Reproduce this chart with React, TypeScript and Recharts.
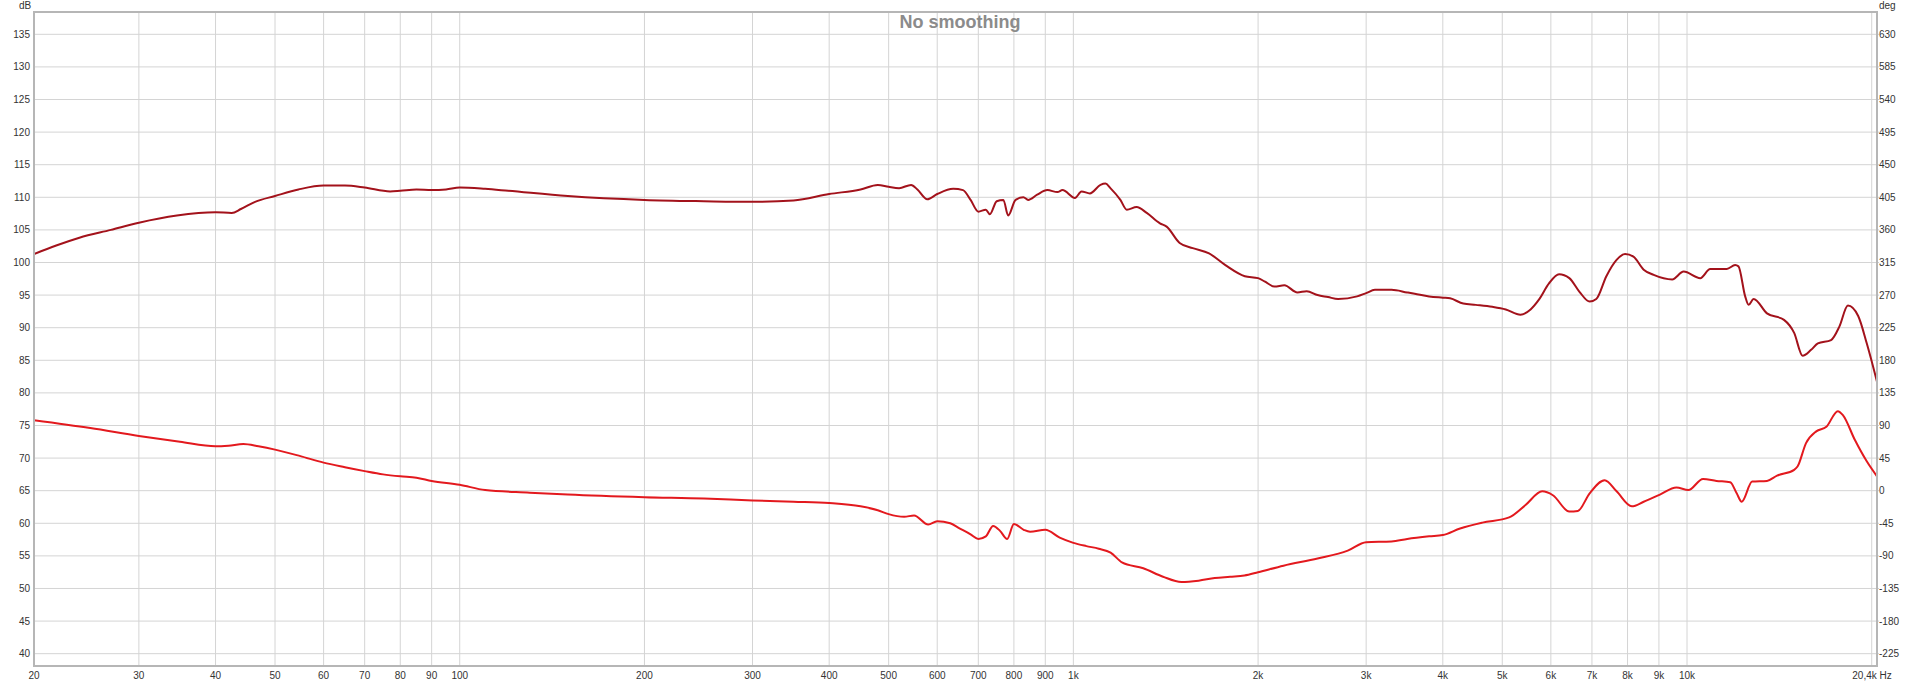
import { CartesianGrid, Line, LineChart, XAxis, YAxis } from 'recharts';

// frequency axis (Hz, log) and level axes
const xTicks = [
  20.24, 30, 40, 50, 60, 70, 80, 90, 100, 200, 300, 400, 500, 600, 700, 800, 900,
  1000, 2000, 3000, 4000, 5000, 6000, 7000, 8000, 9000, 10000, 20000, 20400,
];
const xTickLabels = [
  '20', '30', '40', '50', '60', '70', '80', '90', '100', '200', '300', '400', '500', '600',
  '700', '800', '900', '1k', '2k', '3k', '4k', '5k', '6k', '7k', '8k', '9k', '10k', '', '20,4k Hz',
];
const dbTicks = [40, 45, 50, 55, 60, 65, 70, 75, 80, 85, 90, 95, 100, 105, 110, 115, 120, 125, 130, 135];
const degTicks = [-225, -180, -135, -90, -45, 0, 45, 90, 135, 180, 225, 270, 315, 360, 405, 450, 495, 540, 585, 630];

// upper trace (dark red)
const upperFreq = [
  20.24, 22, 24, 27, 30, 34.6, 40, 42.5, 44, 46.4, 50, 54.6, 60, 65, 70, 77, 80, 85, 90, 95, 100,
  110, 120, 150, 200, 250, 300, 350, 400, 450, 480, 500, 520, 544, 557, 578, 600, 637, 661, 680,
  700, 720, 731, 750, 769, 783, 805, 829, 844, 873, 907, 942, 960, 1006, 1031, 1064, 1107, 1128,
  1149, 1193, 1222, 1268, 1317, 1384, 1419, 1490, 1565, 1664, 1769, 1903, 2000, 2049, 2127, 2207,
  2318, 2400, 2500, 2600, 2700, 2900, 3000, 3100, 3300, 3500, 3600, 3800, 4000, 4111, 4319, 4527,
  4816, 5066, 5354, 5560, 5737, 5958, 6188, 6430, 6680, 6940, 7115, 7389, 7678, 7925, 8180, 8500,
  8825, 9460, 9875, 10510, 10910, 11610, 11980, 12130, 12440, 12600, 12840, 13500, 14390, 14950,
  15430, 15930, 16340, 17170, 17720, 18290, 19010, 19630, 20400,
];
const upperDb = [
  101.3, 102.6, 103.8, 105.0, 106.1, 107.2, 107.7, 107.6, 108.2, 109.3, 110.2, 111.2, 111.8, 111.8,
  111.5, 110.9, 111.0, 111.2, 111.1, 111.2, 111.5, 111.3, 111.0, 110.2, 109.6, 109.4, 109.3, 109.5,
  110.5, 111.2, 111.9, 111.6, 111.4, 111.9, 111.2, 109.7, 110.5, 111.3, 111.1, 109.6, 107.8, 108.1,
  107.4, 109.4, 109.6, 107.2, 109.6, 110.0, 109.6, 110.4, 111.1, 110.8, 111.1, 109.9, 110.9, 110.6,
  111.9, 112.1, 111.4, 109.6, 108.1, 108.5, 107.6, 106.0, 105.5, 103.0, 102.2, 101.4, 99.6, 97.9,
  97.6, 97.1, 96.3, 96.5, 95.4, 95.6, 95.0, 94.7, 94.4, 94.8, 95.3, 95.8, 95.8, 95.4, 95.2, 94.8,
  94.6, 94.5, 93.7, 93.5, 93.2, 92.8, 92.0, 92.8, 94.3, 96.8, 98.2, 97.6, 95.5, 94.0, 94.4, 97.9,
  100.4, 101.3, 100.9, 98.9, 98.1, 97.4, 98.6, 97.6, 99.0, 99.0, 99.6, 99.4, 94.8, 93.5, 94.4, 92.2,
  91.2, 89.2, 85.7, 86.6, 87.6, 88.1, 90.2, 93.4, 91.8, 87.6, 81.7,
];

// lower trace (bright red)
const lowerFreq = [
  20.24, 25, 30, 35, 40, 42, 44.4, 47, 50, 55, 60, 65, 70, 75, 80, 85, 90, 100, 110, 130, 150,
  200, 250, 300, 350, 400, 450, 480, 500, 530, 550, 580, 600, 630, 650, 680, 700, 720, 740, 760,
  780, 800, 830, 850, 900, 950, 1000, 1050, 1100, 1150, 1200, 1300, 1400, 1500, 1600, 1700, 1800,
  1900, 2000, 2200, 2500, 2800, 3000, 3300, 3500, 3800, 4000, 4268, 4640, 5130, 5456, 5808, 6046,
  6430, 6640, 6940, 7343, 7678, 8130, 8500, 9035, 9610, 10050, 10620, 11170, 11760, 12050, 12280,
  12770, 13500, 14020, 14950, 15140, 15630, 16240, 16870, 17610, 17950, 18770, 19630, 20400,
];
const lowerDb = [
  75.8, 74.6, 73.4, 72.5, 71.8, 71.9, 72.15, 71.8, 71.3, 70.3, 69.3, 68.6, 68.0, 67.5, 67.2, 67.0,
  66.5, 65.9, 65.1, 64.7, 64.4, 64.0, 63.8, 63.5, 63.3, 63.1, 62.6, 62.0, 61.4, 61.0, 61.2, 59.8,
  60.3, 60.0, 59.3, 58.3, 57.6, 58.0, 59.6, 58.8, 57.6, 59.9, 59.0, 58.7, 59.0, 57.8, 57.0, 56.5,
  56.1, 55.5, 54.0, 53.1, 51.8, 51.0, 51.2, 51.6, 51.8, 52.0, 52.5, 53.5, 54.6, 55.8, 57.1, 57.2,
  57.6, 58.0, 58.2, 59.2, 60.1, 60.9, 62.8, 64.9, 64.3, 61.8, 61.9, 64.6, 66.6, 64.9, 62.6, 63.3,
  64.4, 65.5, 65.1, 66.8, 66.5, 66.3, 64.6, 63.3, 66.4, 66.5, 67.3, 68.2, 68.7, 72.3, 74.1, 74.8,
  77.2, 76.6, 72.8, 69.5, 67.2,
];

const upperData = upperFreq.map((f, i) => ({ f, db: upperDb[i] }));
const lowerData = lowerFreq.map((f, i) => ({ f, db: lowerDb[i] }));

const FONT = '"Liberation Sans", Arial, sans-serif';
const TICK_COLOR = '#333';

const XTick = ({ x, y, payload }: any) => {
  const i = xTicks.indexOf(payload.value);
  const dx = payload.value === 20400 ? -5 : 0;
  return (
    <text x={x + dx} y={y + 13} textAnchor="middle" fontSize={10} fill={TICK_COLOR} fontFamily={FONT}>
      {xTickLabels[i]}
    </text>
  );
};

const LeftTick = ({ x, y, payload }: any) => (
  <text x={x - 4} y={y + 3.5} textAnchor="end" fontSize={10} fill={TICK_COLOR} fontFamily={FONT}>
    {payload.value}
  </text>
);

const RightTick = ({ x, y, payload }: any) => (
  <g>
    <line x1={x} x2={x + 2} y1={y} y2={y} stroke="#cfcfcf" />
    <text x={x + 2} y={y + 3.5} textAnchor="start" fontSize={10} fill={TICK_COLOR} fontFamily={FONT}>
      {payload.value}
    </text>
  </g>
);

export default function App() {
  return (
    <div style={{ position: 'absolute', left: 0, top: 0, width: 1920, height: 683, background: '#fff' }}>
      <LineChart width={1920} height={683} margin={{ top: 12, right: 0, bottom: 0, left: 0 }}>
        <CartesianGrid stroke="#d4d4d4" strokeWidth={1} />
        <XAxis
          dataKey="f"
          type="number"
          scale="log"
          domain={[20.24, 20400]}
          allowDataOverflow
          ticks={xTicks}
          interval={0}
          height={17}
          tickSize={0}
          tickMargin={0}
          axisLine={false}
          tickLine={false}
          tick={<XTick />}
        />
        <YAxis
          type="number"
          domain={[38.11, 138.42]}
          allowDataOverflow
          ticks={dbTicks}
          interval={0}
          width={34}
          tickSize={0}
          tickMargin={0}
          axisLine={false}
          tickLine={false}
          tick={<LeftTick />}
        />
        <YAxis
          yAxisId="deg"
          orientation="right"
          type="number"
          domain={[-242.0, 660.8]}
          allowDataOverflow
          ticks={degTicks}
          interval={0}
          width={43}
          tickSize={0}
          tickMargin={0}
          axisLine={false}
          tickLine={false}
          tick={<RightTick />}
        />
        <Line
          data={upperData}
          dataKey="db"
          type="monotone"
          stroke="#a3121b"
          strokeWidth={2}
          dot={false}
          isAnimationActive={false}
        />
        <Line
          data={lowerData}
          dataKey="db"
          type="monotone"
          stroke="#e3191e"
          strokeWidth={2}
          dot={false}
          isAnimationActive={false}
        />
      </LineChart>
      {/* plot frame */}
      <div
        style={{
          position: 'absolute',
          left: 33,
          top: 11,
          width: 1845,
          height: 656,
          border: '2px solid #b6b6b6',
          boxSizing: 'border-box',
          pointerEvents: 'none',
        }}
      />
      <div
        style={{
          position: 'absolute',
          left: 0,
          top: 13,
          width: 1920,
          textAlign: 'center',
          fontFamily: FONT,
          fontWeight: 'bold',
          fontSize: 18,
          lineHeight: '18px',
          color: '#8b8b8b',
        }}
      >
        No smoothing
      </div>
      <div style={{ position: 'absolute', left: 19, top: 0, fontFamily: FONT, fontSize: 10, color: TICK_COLOR }}>dB</div>
      <div style={{ position: 'absolute', left: 1879, top: 0, fontFamily: FONT, fontSize: 10, color: TICK_COLOR }}>deg</div>
    </div>
  );
}
